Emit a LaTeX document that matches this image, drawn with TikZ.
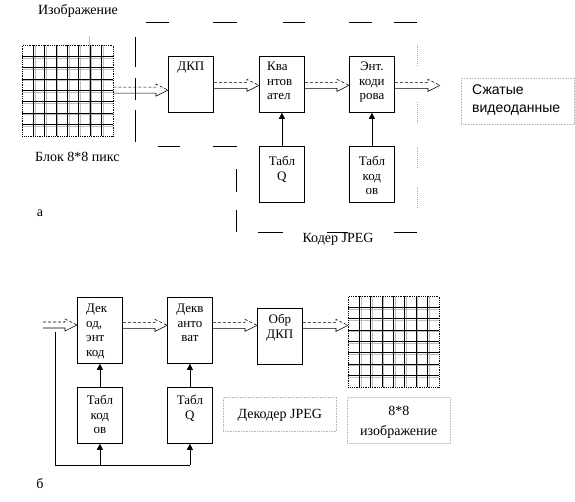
\documentclass[tikz,border=0pt]{standalone}
\usepackage{fontspec}
\setmainfont{Liberation Serif}
\newfontfamily\sansf{Liberation Sans}
\usetikzlibrary{calc,arrows.meta}
\tikzset{
  blk/.style={draw, line width=0.8pt, minimum width=45pt, minimum height=56pt, inner sep=0pt, anchor=north west},
  btxt/.style={anchor=north, align=center, font=\fontsize{13}{14.5}\selectfont, inner sep=0pt},
  btxtl/.style={anchor=north west, align=left, font=\fontsize{13}{14.5}\selectfont, inner sep=0pt},
  lbl/.style={font=\fontsize{14}{16}\selectfont, inner sep=0pt},
  dotbox/.style={draw=gray!55, densely dotted, line width=0.6pt, anchor=north west, inner sep=0pt},
  framedash/.style={line width=1pt},
  uparr/.style={line width=0.7pt, -{Triangle[length=6pt,width=6pt]}},
  loopline/.style={line width=0.7pt},
  gridblack/.style={line width=0.6pt},
  gridgray/.style={line width=1pt, gray!50},
}
\newcommand\harrow[2]{%
  \draw[line width=0.6pt, densely dashed] let \p1=(#1), \p2=(#2) in
    (\x1,\y1+3pt) -- (\x2-12pt,\y1+3pt) -- (\x2-12pt,\y1+6pt) -- (\x2,\y1);
  \draw[line width=0.6pt] let \p1=(#1), \p2=(#2) in
    (\x2,\y1) -- (\x2-12pt,\y1-6pt) -- (\x2-12pt,\y1-3pt) -- (\x1,\y1-3pt);
}
\newcommand\pixgrid[3]{% x y name
  \foreach \i in {1,...,7} {
    \draw[gridgray] ({#1+\i*11.3+2},#2) -- ({#1+\i*11.3+2},{#2+90.5});
    \draw[gridgray] (#1,{#2+\i*11.3+2}) -- ({#1+90.5},{#2+\i*11.3+2});
  }
  \foreach \i in {1,...,7} {
    \draw[gridblack] ({#1+\i*11.3},#2) -- ({#1+\i*11.3},{#2+90.5});
    \draw[gridblack] (#1,{#2+\i*11.3}) -- ({#1+90.5},{#2+\i*11.3});
  }
  \node[draw, densely dotted, line width=0.8pt, anchor=north west, minimum width=90.5pt, minimum height=90.5pt, inner sep=0pt] (#3) at (#1,#2) {};
}
\begin{document}
\begin{tikzpicture}[x=1pt,y=-1pt]
\useasboundingbox (0,0) rectangle (575,501);

% ---------- part a ----------
\node[lbl] (tImg) at (78,11) {Изображение};
\draw[gridgray] (89,36) -- (89,127);
\pixgrid{22}{45}{gridA}
\node[lbl, anchor=west] (tBlk) at (35,157) {Блок 8*8 пикс};
\node[lbl] (tA) at (40,213) {а};

% dashed frame of the coder
\foreach \a/\b in {146/169,213/237,283/305,349/372,394/417}
  \draw[framedash] (\a,22) -- (\b,22);
\foreach \a/\b in {45/67,102/123,147/168,187/209}
  \draw[framedash, gray!70, densely dotted] (417,\a) -- (417,\b);
\foreach \a/\b in {258/283,327/348,394/417}
  \draw[framedash] (\a,232) -- (\b,232);
\foreach \a/\b in {169/192,210/232}
  \draw[framedash] (236,\a) -- (236,\b);
\foreach \a/\b in {158/180,213/237}
  \draw[framedash] (\a,146) -- (\b,146);
\foreach \a/\b in {37/67,78/100,110/142}
  \draw[framedash] (135,\a) -- (135,\b);
\node[lbl] (tCoder) at (338,239) {Кодер JPEG};

\node[blk] (dkp) at (168,56) {};
\node[btxt] (dkpL) at ($(dkp.north)+(0,6)$) {ДКП};
\node[blk] (kv) at (259,56) {};
\node[btxtl] (kvL) at ($(kv.north west)+(8,6)$) {Ква\\нтов\\ател};
\node[blk] (ent) at (349,56) {};
\node[btxt] (entL) at ($(ent.north)+(0,6)$) {Энт.\\коди\\рова};
\node[blk] (tq) at (259,146) {};
\node[btxt] (tqL) at ($(tq.north)+(0,10)$) {Табл\\Q};
\node[blk] (tk) at (349,146) {};
\node[btxt] (tkL) at ($(tk.north)+(0,10)$) {Табл\\код\\ов};

\coordinate (outA) at (440,85);
\harrow{$(gridA.east)+(0,-0.5)$}{dkp.west}
\harrow{$(dkp.east)+(0,1)$}{kv.west}
\harrow{$(kv.east)+(0,1)$}{ent.west}
\harrow{$(ent.east)+(0,1)$}{outA}
\draw[uparr] (tq.north) -- (kv.south);
\draw[uparr] (tk.north) -- (ent.south);

\node[dotbox, minimum width=113pt, minimum height=46pt] (cmp) at (461,78) {};
\node[anchor=north west, align=left, inner sep=0pt, font=\sansf\fontsize{14}{18}\selectfont] (cmpL) at (472,85) {Сжатые\\видеоданные};

% ---------- part b ----------
\node[blk, minimum height=66pt] (dek) at (77,297) {};
\node[btxtl] (dekL) at ($(dek.north west)+(9,7)$) {Дек\\од,\\энт\\код};
\node[blk, minimum height=66pt] (dq) at (167,297) {};
\node[btxt] (dqL) at ($(dq.north)+(0,7)$) {Декв\\анто\\ват};
\node[blk] (idct) at (257,308) {};
\node[btxt] (idctL) at ($(idct.north)+(0,6)$) {Обр\\ДКП};
\pixgrid{348}{296}{gridB}
\node[blk] (tkb) at (77,387) {};
\node[btxt] (tkbL) at ($(tkb.north)+(0,8)$) {Табл\\код\\ов};
\node[blk] (tqb) at (167,387) {};
\node[btxt] (tqbL) at ($(tqb.north)+(0,8)$) {Табл\\Q};

\coordinate (inB) at (43,325);
\harrow{inB}{dek.west}
\harrow{$(dek.east)+(0,-5)$}{dq.west}
\harrow{$(dq.east)+(0,-5)$}{idct.west}
\harrow{$(idct.east)+(0,-11)$}{gridB.west}
\draw[uparr] (tkb.north) -- (dek.south);
\draw[uparr] (tqb.north) -- (dq.south);

\coordinate (lpTop) at (55,332);
\coordinate (lpBot) at (55,465);
\coordinate (lpEnd) at (tqb.south |- lpBot);
\draw[loopline] (lpTop) -- (lpBot) -- (lpEnd);
\draw[uparr] (tkb.south |- lpBot) -- (tkb.south);
\draw[uparr] (lpEnd) -- (tqb.south);

\node[dotbox, minimum width=113pt, minimum height=34pt] (decb) at (223,397) {};
\node[lbl] (decL) at ($(decb.center)+(0,1)$) {Декодер JPEG};
\node[dotbox, minimum width=103pt, minimum height=46pt] (imgb) at (347,397) {};
\node[lbl, align=center, font=\fontsize{14}{20}\selectfont] (imgL) at ($(imgb.center)+(0,2)$) {8*8\\изображение};
\node[lbl] (tB) at (40,484) {б};
\end{tikzpicture}
\end{document}
